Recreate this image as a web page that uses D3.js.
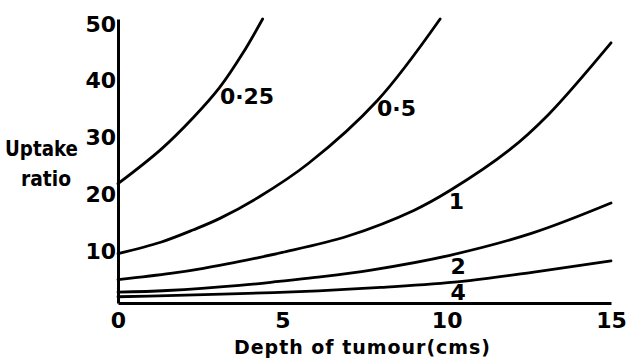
<!DOCTYPE html>
<html>
<head>
<meta charset="utf-8">
<script src="https://cdn.jsdelivr.net/npm/d3@7"></script>
<style>
  html, body { margin: 0; padding: 0; background: #fff; }
  svg { display: block; }
  text { font-family: "DejaVu Sans", sans-serif; font-weight: bold; fill: #000; }
</style>
</head>
<body>
<svg id="chart" width="627" height="362"></svg>
<script>
// readings: depth (cm) vs uptake ratio, one curve per ratio
var seriesNames = ["0·25", "0·5", "1", "2", "4"];
var curve025 = [[0, 21], [1.3, 27], [2.3, 32.7], [3.1, 38], [3.8, 44], [4.4, 50]];
var curve05 = [[0, 8.7], [1.3, 10.7], [2.3, 12.9], [3.1, 14.9], [4.3, 18.7], [5.8, 24.6], [7.9, 35.7], [9.8, 50]];
var curve1 = [[0, 4.1], [1.6, 5.2], [2.6, 6.1], [4.2, 7.9], [5, 8.9], [7, 11.8], [9, 16.3], [10.1, 19.8], [11.9, 26.9], [13.1, 33.2], [15, 45.8]];
var curve2 = [[0, 1.9], [1.5, 2.2], [3.7, 3.1], [4.9, 3.8], [6, 4.5], [7.7, 5.8], [10.1, 8.4], [12.6, 12.3], [15, 17.6]];
var curve4 = [[0, 1.1], [1.5, 1.3], [3.7, 1.65], [6.1, 2.15], [8, 2.75], [10.4, 3.75], [12.6, 5.4], [15, 7.4]];
var xTicks = [0, 5, 10, 15];
var yTicks = [10, 20, 30, 40, 50];
// where each curve's number sits, in data units
var labelSpots = [[3.1, 35], [7.88, 32.9], [10.3, 16.5], [10.35, 5.1], [10.35, 0.5]];

var svg = d3.select("#chart");
var x = d3.scaleLinear().domain([0, 15]).range([118, 611]);
var y = d3.scaleLinear().domain([0, 50]).range([303, 19]);

var series = [curve025, curve05, curve1, curve2, curve4];

var line = d3.line()
    .x(function (d) { return x(d[0]); })
    .y(function (d) { return y(d[1]); })
    .curve(d3.curveCatmullRom.alpha(0.5));

svg.append("g")
    .selectAll("path")
    .data(series)
    .enter()
    .append("path")
    .attr("d", line)
    .attr("fill", "none")
    .attr("stroke", "#000")
    .attr("stroke-width", 2.8)
    .attr("stroke-linecap", "round");

// axes: plain lines, no tick marks
var xAxis = svg.append("g")
    .attr("transform", "translate(0," + y(0) + ")")
    .call(d3.axisBottom(x).tickValues(xTicks).tickSize(0).tickPadding(0).tickFormat(d3.format("d")));
var yAxis = svg.append("g")
    .attr("transform", "translate(" + x(0) + ",0)")
    .call(d3.axisLeft(y).tickValues(yTicks).tickSize(0).tickPadding(0).tickFormat(d3.format("d")));

[xAxis, yAxis].forEach(function (g) {
    g.select(".domain").attr("stroke", "#000").attr("stroke-width", 3);
    g.selectAll("text").attr("font-size", 22).attr("font-family", "DejaVu Sans").attr("font-weight", "bold");
});
xAxis.selectAll("text").attr("dy", null).attr("y", 25);
yAxis.selectAll("text").attr("x", -2).attr("dy", null).attr("y", 12);

svg.append("g")
    .selectAll("text")
    .data(seriesNames)
    .enter()
    .append("text")
    .attr("x", function (d, i) { return x(labelSpots[i][0]); })
    .attr("y", function (d, i) { return y(labelSpots[i][1]); })
    .attr("text-anchor", function (d, i) { return i < 2 ? "start" : "middle"; })
    .attr("font-size", 22)
    .text(function (d) { return d; });

svg.append("text")
    .attr("x", 5).attr("y", 156)
    .attr("font-size", 21)
    .attr("textLength", 73).attr("lengthAdjust", "spacingAndGlyphs")
    .text("Uptake");
svg.append("text")
    .attr("x", 21).attr("y", 186)
    .attr("font-size", 22)
    .attr("textLength", 50).attr("lengthAdjust", "spacingAndGlyphs")
    .text("ratio");

svg.append("text")
    .attr("x", 234).attr("y", 354)
    .attr("font-size", 19)
    .attr("textLength", 256).attr("lengthAdjust", "spacing")
    .text("Depth of tumour(cms)");
</script>
</body>
</html>
